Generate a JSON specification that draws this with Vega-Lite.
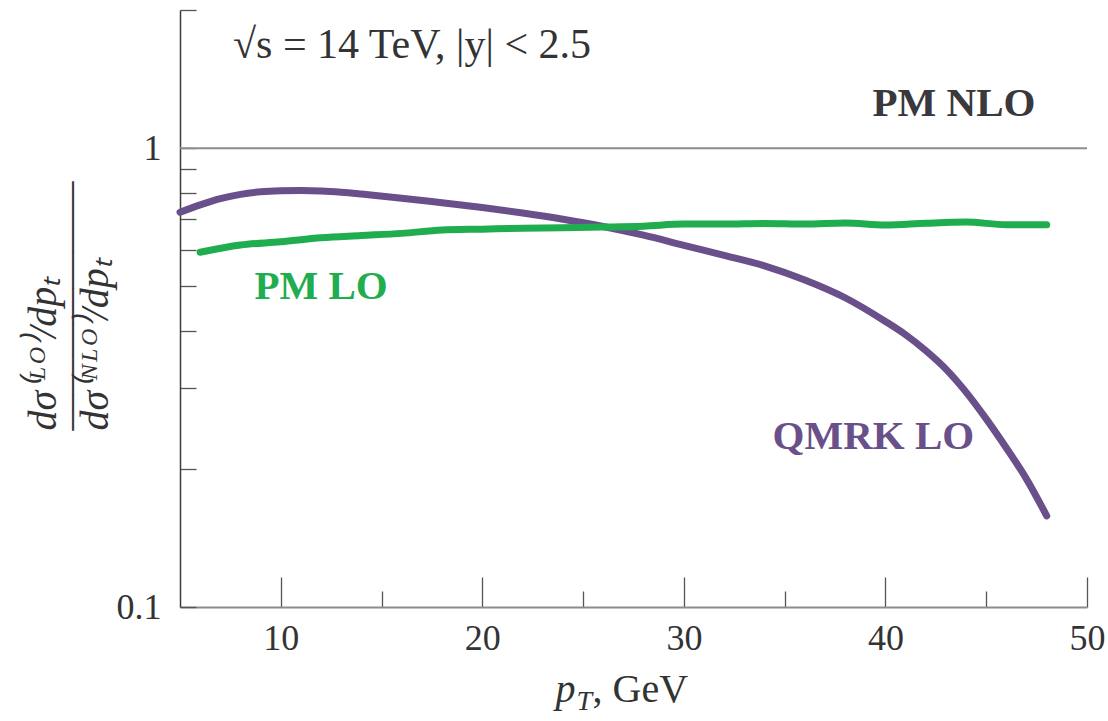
{
  "$schema": "https://vega.github.io/schema/vega-lite/v6.json",
  "width": 907,
  "height": 597,
  "autosize": {"type": "none"},
  "padding": {"left": 180, "top": 10, "right": 21, "bottom": 114},
  "background": "white",
  "config": {"view": {"stroke": null}, "font": "Liberation Serif"},
  "datasets": {
    "nlo": [{"series": "PM NLO", "ratio": 1}],
    "curves": [
      {"series": "QMRK LO", "pT": 5, "ratio": 0.725},
      {"series": "QMRK LO", "pT": 6, "ratio": 0.752},
      {"series": "QMRK LO", "pT": 7, "ratio": 0.776},
      {"series": "QMRK LO", "pT": 8, "ratio": 0.793},
      {"series": "QMRK LO", "pT": 9, "ratio": 0.803},
      {"series": "QMRK LO", "pT": 10, "ratio": 0.807},
      {"series": "QMRK LO", "pT": 11, "ratio": 0.808},
      {"series": "QMRK LO", "pT": 12, "ratio": 0.806},
      {"series": "QMRK LO", "pT": 13, "ratio": 0.801},
      {"series": "QMRK LO", "pT": 14, "ratio": 0.794},
      {"series": "QMRK LO", "pT": 16, "ratio": 0.778},
      {"series": "QMRK LO", "pT": 18, "ratio": 0.760},
      {"series": "QMRK LO", "pT": 20, "ratio": 0.742},
      {"series": "QMRK LO", "pT": 22, "ratio": 0.722},
      {"series": "QMRK LO", "pT": 24, "ratio": 0.700},
      {"series": "QMRK LO", "pT": 26, "ratio": 0.675},
      {"series": "QMRK LO", "pT": 28, "ratio": 0.646},
      {"series": "QMRK LO", "pT": 30, "ratio": 0.614},
      {"series": "QMRK LO", "pT": 32, "ratio": 0.584},
      {"series": "QMRK LO", "pT": 34, "ratio": 0.554},
      {"series": "QMRK LO", "pT": 36, "ratio": 0.516},
      {"series": "QMRK LO", "pT": 38, "ratio": 0.472},
      {"series": "QMRK LO", "pT": 40, "ratio": 0.419},
      {"series": "QMRK LO", "pT": 41, "ratio": 0.392},
      {"series": "QMRK LO", "pT": 42, "ratio": 0.362},
      {"series": "QMRK LO", "pT": 43, "ratio": 0.330},
      {"series": "QMRK LO", "pT": 44, "ratio": 0.294},
      {"series": "QMRK LO", "pT": 45, "ratio": 0.257},
      {"series": "QMRK LO", "pT": 46, "ratio": 0.222},
      {"series": "QMRK LO", "pT": 47, "ratio": 0.190},
      {"series": "QMRK LO", "pT": 48, "ratio": 0.158},
      {"series": "PM LO", "pT": 6, "ratio": 0.593},
      {"series": "PM LO", "pT": 8, "ratio": 0.615},
      {"series": "PM LO", "pT": 10, "ratio": 0.625},
      {"series": "PM LO", "pT": 12, "ratio": 0.638},
      {"series": "PM LO", "pT": 14, "ratio": 0.645},
      {"series": "PM LO", "pT": 16, "ratio": 0.652},
      {"series": "PM LO", "pT": 18, "ratio": 0.663},
      {"series": "PM LO", "pT": 20, "ratio": 0.666},
      {"series": "PM LO", "pT": 22, "ratio": 0.669},
      {"series": "PM LO", "pT": 24, "ratio": 0.671},
      {"series": "PM LO", "pT": 26, "ratio": 0.673},
      {"series": "PM LO", "pT": 28, "ratio": 0.676},
      {"series": "PM LO", "pT": 30, "ratio": 0.683},
      {"series": "PM LO", "pT": 32, "ratio": 0.683},
      {"series": "PM LO", "pT": 34, "ratio": 0.685},
      {"series": "PM LO", "pT": 36, "ratio": 0.683},
      {"series": "PM LO", "pT": 38, "ratio": 0.687},
      {"series": "PM LO", "pT": 40, "ratio": 0.680},
      {"series": "PM LO", "pT": 42, "ratio": 0.686},
      {"series": "PM LO", "pT": 44, "ratio": 0.690},
      {"series": "PM LO", "pT": 46, "ratio": 0.681},
      {"series": "PM LO", "pT": 48, "ratio": 0.681}
    ],
    "labels": [
      {"series": "PM NLO", "pT": 43.4, "ratio": 1.247, "label": "PM NLO"},
      {"series": "PM LO", "pT": 12.0, "ratio": 0.498, "label": "PM LO"},
      {"series": "QMRK LO", "pT": 39.4, "ratio": 0.235, "label": "QMRK LO"}
    ],
    "note": [
      {"pT": 7.63, "ratio": 1.676, "label": "√s = 14 TeV, |y| < 2.5"}
    ]
  },
  "resolve": {"axis": {"x": "independent", "y": "independent"}},
  "layer": [
    {
      "data": {"name": "nlo"},
      "mark": {"type": "rule", "color": "#8c8c8c", "strokeWidth": 2},
      "encoding": {
        "y": {"field": "ratio", "type": "quantitative", "scale": {"type": "log", "domain": [0.1, 2], "nice": false}, "axis": null}
      }
    },
    {
      "data": {"name": "curves"},
      "mark": {"type": "line", "strokeWidth": 7, "strokeCap": "round", "strokeJoin": "round", "interpolate": "monotone"},
      "encoding": {
        "x": {
          "field": "pT", "type": "quantitative",
          "scale": {"domain": [5, 50], "nice": false, "zero": false},
          "axis": {
            "orient": "bottom",
            "values": [10, 15, 20, 25, 30, 35, 40, 45, 50],
            "tickSize": {"condition": {"test": "datum.value % 10 === 0", "value": -30}, "value": -16},
            "tickColor": "#555555", "tickWidth": 1.3,
            "domainColor": "#8c8c8c", "domainWidth": 2,
            "labelExpr": "datum.value % 10 === 0 ? datum.label : ''",
            "labelFont": "Liberation Serif", "labelFontSize": 36, "labelColor": "#333333",
            "labelPadding": 44, "labelFlush": false, "labelOverlap": false,
            "grid": false,
            "title": "p", "titleFont": "Liberation Serif", "titleFontStyle": "italic", "titleFontWeight": "normal",
            "titleFontSize": 40, "titleColor": "#333333",
            "titleX": 375, "titleY": 94, "titleAlign": "left", "titleBaseline": "alphabetic"
          }
        },
        "y": {
          "field": "ratio", "type": "quantitative",
          "scale": {"type": "log", "domain": [0.1, 2], "nice": false},
          "axis": {
            "orient": "left",
            "values": [0.1, 0.2, 0.3, 0.4, 0.5, 0.6, 0.7, 0.8, 0.9, 1, 2],
            "tickSize": -16, "tickColor": "#555555", "tickWidth": 1.3,
            "domainColor": "#3c3c3c", "domainWidth": 1.5,
            "labelExpr": "datum.value == 1 ? '1' : (datum.value == 0.1 ? '0.1' : '')",
            "labelFont": "Liberation Serif", "labelFontSize": 36, "labelColor": "#333333",
            "labelPadding": 35, "labelFlush": false, "labelOverlap": false,
            "grid": false,
            "title": ["\u00a0\u00a0dσ⁽ᴸᴼ⁾/dpₜ", "———————", "\u00a0\u00a0dσ⁽ᴺᴸᴼ⁾/dpₜ"],
            "titleFont": "Liberation Serif", "titleFontStyle": "italic", "titleFontWeight": "normal",
            "titleFontSize": 40, "titleColor": "#333333", "titleLineHeight": 26,
            "titleAngle": 270, "titleAlign": "left", "titleBaseline": "middle",
            "titleX": -137, "titleY": 420
          }
        },
        "color": {
          "field": "series", "type": "nominal",
          "scale": {"domain": ["PM NLO", "PM LO", "QMRK LO"], "range": ["#38383d", "#1fad4f", "#69508a"]},
          "legend": null
        },
        "detail": {"field": "series"}
      }
    },
    {
      "data": {"name": "labels"},
      "mark": {"type": "text", "font": "Liberation Serif", "fontWeight": "bold", "fontSize": 41, "align": "center", "baseline": "middle"},
      "encoding": {
        "x": {
          "field": "pT", "type": "quantitative",
          "scale": {"domain": [5, 50], "nice": false, "zero": false},
          "axis": {
            "orient": "bottom", "ticks": false, "labels": false, "domain": false, "grid": false,
            "title": "T", "titleFont": "Liberation Serif", "titleFontStyle": "italic", "titleFontWeight": "normal",
            "titleFontSize": 28, "titleColor": "#333333",
            "titleX": 396, "titleY": 102, "titleAlign": "left", "titleBaseline": "alphabetic"
          }
        },
        "y": {"field": "ratio", "type": "quantitative", "scale": {"type": "log", "domain": [0.1, 2], "nice": false}, "axis": null},
        "color": {
          "field": "series", "type": "nominal",
          "scale": {"domain": ["PM NLO", "PM LO", "QMRK LO"], "range": ["#38383d", "#1fad4f", "#69508a"]},
          "legend": null
        },
        "text": {"field": "label"}
      }
    },
    {
      "data": {"name": "note"},
      "mark": {"type": "text", "font": "Liberation Serif", "fontSize": 42, "align": "left", "baseline": "middle", "color": "#333333"},
      "encoding": {
        "x": {
          "field": "pT", "type": "quantitative",
          "scale": {"domain": [5, 50], "nice": false, "zero": false},
          "axis": {
            "orient": "bottom", "ticks": false, "labels": false, "domain": false, "grid": false,
            "title": ", GeV", "titleFont": "Liberation Serif", "titleFontStyle": "normal", "titleFontWeight": "normal",
            "titleFontSize": 40, "titleColor": "#333333",
            "titleX": 412, "titleY": 94, "titleAlign": "left", "titleBaseline": "alphabetic"
          }
        },
        "y": {"field": "ratio", "type": "quantitative", "scale": {"type": "log", "domain": [0.1, 2], "nice": false}, "axis": null},
        "text": {"field": "label"}
      }
    }
  ]
}
